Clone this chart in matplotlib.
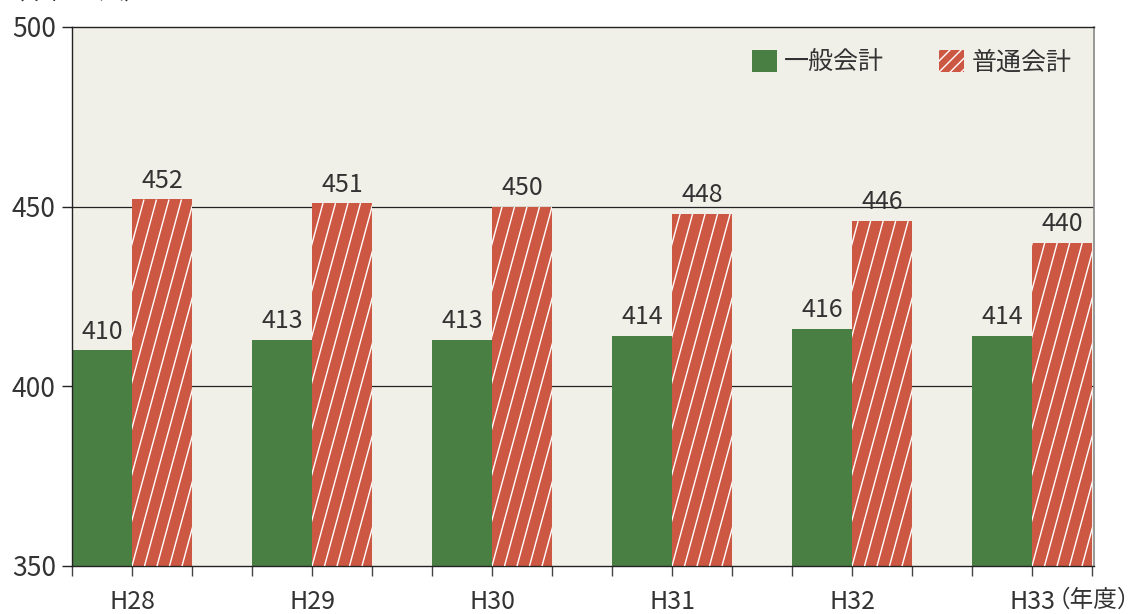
import numpy as np
import matplotlib
matplotlib.use("Agg")
import matplotlib.pyplot as plt
from matplotlib.collections import LineCollection
from matplotlib.patches import Patch

plt.rcParams["font.family"] = ["Noto Sans CJK JP", "DejaVu Sans"]
plt.rcParams["hatch.color"] = "white"

years = ["H28", "H29", "H30", "H31", "H32", "H33"]
general = [410, 413, 413, 414, 416, 414]
ordinary = [452, 451, 450, 448, 446, 440]
series_names = ["一般会計", "普通会計"]
unit_text = "（単位：人）"
year_suffix = "（年度）"

GREEN = "#4a7f43"
RED = "#cc5844"
BG = "#f1f0e8"
TXT = "#333333"

W, H = 1145, 614
fig = plt.figure(figsize=(W / 100, H / 100), dpi=100)
ax_l, ax_r, ax_b, ax_t = 72 / W, 1094 / W, 1 - 566 / H, 1 - 27 / H
ax = fig.add_axes([ax_l, ax_b, ax_r - ax_l, ax_t - ax_b])
ax.set_facecolor(BG)

x = np.arange(len(years))
bw = 1 / 3
ax.set_xlim(-bw, len(years) - 1 + bw + 0.011)
ax.set_ylim(350, 500)

for yv in (400, 450):
    ax.axhline(yv, color="#222222", lw=0.9, zorder=1)

b1 = ax.bar(x - bw / 2, general, bw, color=GREEN, zorder=2)
b2 = ax.bar(x + bw / 2, ordinary, bw, color=RED, zorder=2)

# steep white hatch lines clipped to the red bars
px_x = (ax_r - ax_l) * W / (ax.get_xlim()[1] - ax.get_xlim()[0])  # px per x unit
px_y = (ax_t - ax_b) * H / 150.0  # px per y unit
step_px, lean_px, rise_px = 12.5, 19.0, 70.0
for rect in b2:
    x0, w = rect.get_x(), rect.get_width()
    top = rect.get_height()
    segs = []
    height_px = (top - 350) * px_y
    n = int((w * px_x + height_px * lean_px / rise_px) / step_px) + 2
    for k in range(-n, n + 1):
        sx = x0 + k * step_px / px_x
        ex = sx + (height_px * lean_px / rise_px) / px_x
        segs.append([(sx, 350), (ex, top)])
    lc = LineCollection(segs, colors="white", linewidths=1.0, zorder=3)
    ax.add_collection(lc, autolim=False)
    lc.set_clip_path(rect)

ax.bar_label(b1, padding=4, fontsize=18, color=TXT)
ax.bar_label(b2, padding=4, fontsize=18, color=TXT)

# axes styling
for s in ("left", "bottom", "top"):
    ax.spines[s].set_color("#222222")
    ax.spines[s].set_linewidth(1.0)
ax.spines["right"].set_color("#888888")
ax.spines["right"].set_linewidth(1.2)

ax.set_yticks([350, 400, 450, 500])
ax.tick_params(axis="y", length=7.2, width=1, color="#222222", labelsize=19,
               labelcolor=TXT, pad=4.5)
ax.set_xticks(x)
ax.set_xticklabels(years)
ax.set_xticks(np.arange(-bw, len(years) - 1 + bw + 0.01, bw), minor=True)
ax.tick_params(axis="x", which="both", length=7.2, width=1, color="#444444",
               labelsize=18, labelcolor=TXT, pad=9.5)

ax.annotate(year_suffix, xy=(1141 / W, ax_b), xycoords="figure fraction",
            xytext=(0, -16.7), textcoords="offset points",
            ha="right", va="top", fontsize=17, color=TXT)

# unit label, mostly cut off at the top edge as in the source image
fig.text(0.0, 1 + 1 / H, unit_text, ha="left", va="baseline", fontsize=18,
         color=TXT)

handles = [Patch(facecolor=GREEN, edgecolor="none"),
           Patch(facecolor=RED, edgecolor="white", hatch="///", lw=0)]
ax.legend(handles, series_names, loc="upper right", frameon=False,
          fontsize=18, ncol=2, handlelength=1.0, handleheight=1.0,
          handletextpad=0.3, columnspacing=2.2, borderaxespad=0.5,
          labelcolor=TXT, bbox_to_anchor=(1.0, 1.0))

fig.savefig("out.png", dpi=100)
